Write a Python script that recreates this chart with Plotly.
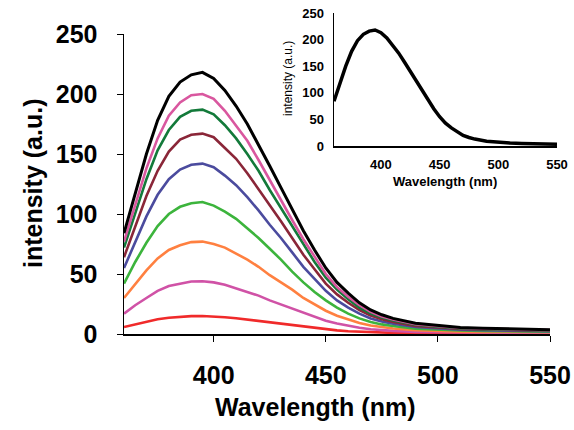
import plotly.graph_objects as go

wavelength = [360, 365, 370, 375, 380, 385, 390, 395, 400, 405, 410, 415, 420, 425, 430,
              435, 440, 445, 450, 455, 460, 465, 470, 475, 480, 490, 500, 510, 520, 530, 540, 550]

black = [84, 118, 150, 178, 198, 210, 216, 218, 213, 203, 190, 175, 158, 140, 122,
         104, 86, 70, 55, 43, 34, 26, 20, 16, 13, 9, 7, 5.5, 4.8, 4.2, 3.8, 3.5]
pink = [77, 108, 138, 163, 182, 193, 199, 200, 196, 186, 174, 161, 145, 128, 112,
        95, 79, 64, 50, 39, 31, 24, 18.5, 14.5, 12, 8.2, 6.4, 5, 4.4, 3.8, 3.4, 3.2]
dark_green = [72, 101, 129, 153, 170, 181, 186, 187, 183, 174, 163, 150, 136, 120, 105,
              89, 74, 60, 47, 37, 29, 22, 17, 13.7, 11.2, 7.7, 6, 4.7, 4.1, 3.6, 3.2, 3.0]
maroon = [64, 90, 115, 136, 152, 162, 166, 167, 164, 155, 146, 134, 121, 107, 94,
          80, 66, 54, 42, 33, 26, 20, 15.4, 12.2, 10, 6.8, 5.3, 4.2, 3.7, 3.2, 2.9, 2.7]
blue = [55, 77, 98, 116, 129, 137, 141, 142, 139, 132, 124, 114, 103, 91, 80,
        68, 56, 46, 36, 28, 22, 17, 13, 10.4, 8.5, 5.8, 4.5, 3.6, 3.1, 2.7, 2.4, 2.3]
green = [42, 60, 76, 90, 100, 106, 109, 110, 107, 102, 96, 88, 80, 71, 62,
         52, 43, 35, 28, 22, 17, 13, 10, 8, 6.6, 4.5, 3.6, 2.9, 2.5, 2.2, 2.0, 1.9]
orange = [30, 42, 53, 63, 70, 74, 76.6, 77, 75, 72, 67, 62, 56, 49, 43,
          37, 30, 25, 19.4, 15.2, 12, 9.2, 7.1, 5.6, 4.6, 3.2, 2.5, 2.0, 1.8, 1.6, 1.5, 1.4]
pink2 = [17, 24, 30, 36, 40, 42, 43.8, 44, 43, 41, 38, 35, 32, 28, 24.6,
         21, 17.3, 14, 11, 8.7, 6.9, 5.2, 4, 3.2, 2.6, 1.8, 1.5, 1.2, 1.1, 1.0, 0.9, 0.9]
red = [5.8, 8.1, 10.3, 12.3, 13.6, 14.4, 14.9, 15, 14.7, 14, 13.1, 12, 10.9, 9.6, 8.4,
       7.2, 5.9, 4.8, 3.8, 3.0, 2.3, 1.8, 1.4, 1.1, 0.9, 0.7, 0.6, 0.5, 0.5, 0.5, 0.4, 0.4]

series = [
    (red, "#f02a2a"),
    (pink2, "#d052a6"),
    (orange, "#ff8040"),
    (green, "#3cb43c"),
    (blue, "#4b4b9e"),
    (maroon, "#8a2638"),
    (dark_green, "#137a3a"),
    (pink, "#d9579f"),
    (black, "#000000"),
]

x_ticks = [400, 450, 500, 550]
y_ticks = [0, 50, 100, 150, 200, 250]

FONT = "Liberation Sans, Arial, sans-serif"

fig = go.Figure()
for vals, col in series:
    fig.add_trace(go.Scatter(x=wavelength, y=vals, mode="lines",
                             line=dict(color=col, width=3 if col == "#000000" else 2.6),
                             xaxis="x", yaxis="y", showlegend=False))

fig.add_trace(go.Scatter(x=wavelength, y=black, mode="lines",
                         line=dict(color="#000000", width=3.5),
                         xaxis="x2", yaxis="y2", showlegend=False))

W, H = 574, 430
def px(x): return x / W
def py(y): return 1 - y / H

common = dict(showgrid=False, zeroline=False, automargin=False,
              showline=True, linecolor="black", linewidth=1.5)

fig.update_layout(
    width=W, height=H,
    margin=dict(l=0, r=0, t=0, b=0, pad=0, autoexpand=False),
    paper_bgcolor="white", plot_bgcolor="white",
    font=dict(family=FONT, color="black"),
    xaxis=dict(domain=[px(124), px(550)], range=[360, 550], tickvals=x_ticks,
               ticks="outside", ticklen=6, tickcolor="black",
               tickfont=dict(size=25, weight="bold", family=FONT),
               ticklabelstandoff=12, anchor="y", **common),
    yaxis=dict(domain=[py(334), py(34)], range=[0, 250], tickvals=y_ticks,
               ticks="outside", ticklen=6, tickcolor="black",
               tickfont=dict(size=25, weight="bold", family=FONT),
               ticklabelstandoff=14, anchor="x", **common),
    xaxis2=dict(domain=[px(334), px(557)], range=[360, 550], tickvals=x_ticks,
                ticks="", tickfont=dict(size=13, weight="bold", family=FONT),
                ticklabelstandoff=6, anchor="y2", **common),
    yaxis2=dict(domain=[py(146), py(13)], range=[0, 250], tickvals=y_ticks,
                ticks="", tickfont=dict(size=13, weight="bold", family=FONT),
                ticklabelstandoff=6, anchor="x2", **common),
    annotations=[
        dict(text="Wavelength (nm)", x=px(315), y=py(407), xref="paper", yref="paper",
             showarrow=False, font=dict(size=25, weight="bold", family=FONT),
             xanchor="center", yanchor="middle"),
        dict(text="intensity (a.u.)", x=px(33), y=py(184), xref="paper", yref="paper",
             showarrow=False, textangle=-90, font=dict(size=25, weight="bold", family=FONT),
             xanchor="center", yanchor="middle"),
        dict(text="Wavelength (nm)", x=px(445), y=py(182), xref="paper", yref="paper",
             showarrow=False, font=dict(size=13, weight="bold", family=FONT),
             xanchor="center", yanchor="middle"),
        dict(text="intensity (a.u.)", x=px(288), y=py(79), xref="paper", yref="paper",
             showarrow=False, textangle=-90, font=dict(size=12, family=FONT),
             xanchor="center", yanchor="middle"),
    ],
)

fig.write_html("out.html",
               config={"displayModeBar": False, "staticPlot": True},
               post_script="document.body.style.margin='0';document.body.style.overflow='hidden';")
